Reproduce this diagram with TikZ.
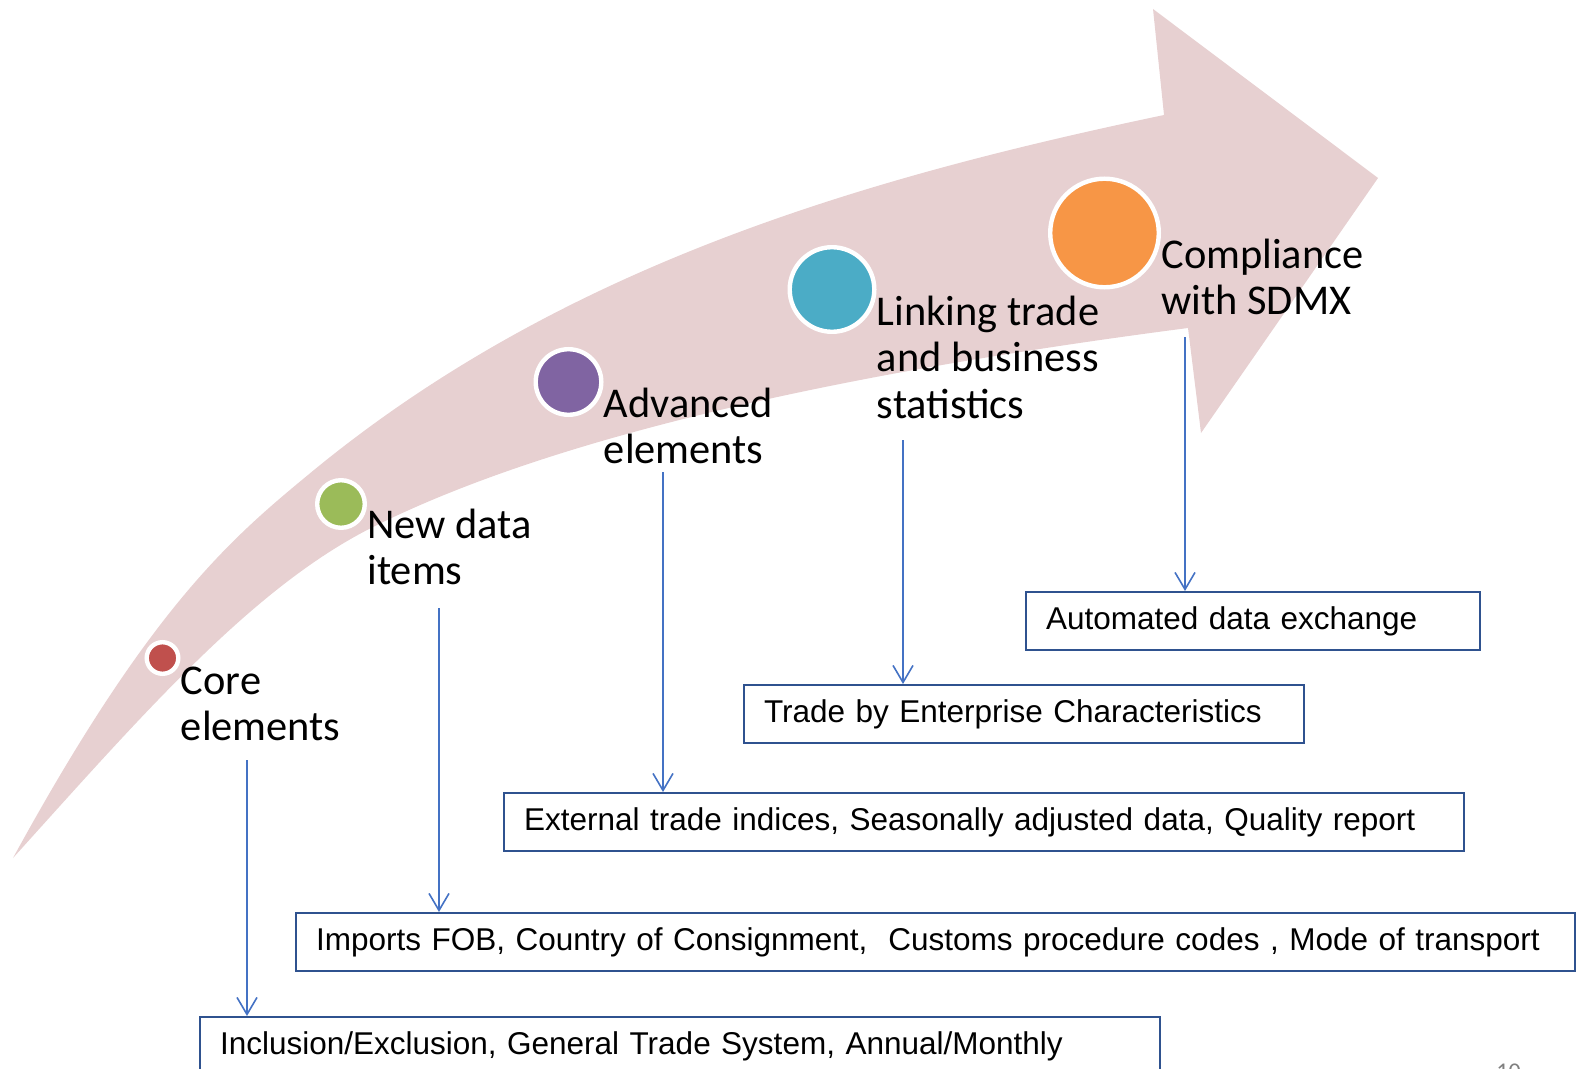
\documentclass[tikz,border=0pt]{standalone}
\usepackage{fontspec}
\setmainfont{Carlito}
\newfontfamily\boxfont{Liberation Sans}
\usetikzlibrary{positioning}
\usetikzlibrary{arrows.meta}
\definecolor{bandpink}{RGB}{231,208,209}
\definecolor{boxblue}{RGB}{47,82,143}
\definecolor{linkblue}{RGB}{68,114,196}
\definecolor{dotred}{RGB}{192,80,77}
\definecolor{dotgreen}{RGB}{155,187,89}
\definecolor{dotviolet}{RGB}{128,100,162}
\definecolor{dotcyan}{RGB}{75,172,198}
\definecolor{dotorange}{RGB}{247,150,70}
\tikzset{
    stagedot/.style = {circle, draw=white, line width=2.2pt, inner sep=0pt, minimum size=#1},
    stagetext/.style = {inner sep=0pt, align=left, anchor=base west, font=\fontsize{21.2}{23.25}\selectfont}, % base = last line
    itembox/.style = {rectangle, draw=boxblue, line width=1pt, anchor=north west, align=left,
                      inner xsep=10pt, minimum height=29pt, font=\boxfont\fontsize{15.75}{18}\selectfont},
    link/.style = {-{Straight Barb[length=8.5pt,width=10pt]}, line width=0.8pt, linkblue},
}
\begin{document}
\begin{tikzpicture}[x=0.5pt,y=-0.5pt]
\useasboundingbox (0,0) rectangle (1577,1069);
%
% the curved arrow
\fill[bandpink] (13,858) .. controls (153,602) and (234,536) .. (314,470)
  .. controls (564,265) and (864,178) .. (1164,115)
  -- (1153,9) -- (1378,178) -- (1201,433) -- (1188,328)
  .. controls (838,373.5) and (553,437) .. (373,527)
  .. controls (253,587) and (143,714) .. (13,858) -- cycle;
%
% stages
\node[stagedot=15.8pt, fill=dotred] at (162.5,658) (core) {};
\node[stagedot=23.8pt, fill=dotgreen] at (341,504) (newdata) {};
\node[stagedot=32.8pt, fill=dotviolet] at (568.5,382) (advanced) {};
\node[stagedot=42.3pt, fill=dotcyan] at (832,289.5) (linking) {};
\node[stagedot=54.3pt, fill=dotorange] at (1104.5,233) (sdmx) {};
%
\node[stagetext] at ([yshift=-41.25pt]core.east) (corelbl) {Core\\elements};
\node[stagetext] at ([yshift=-40.25pt]newdata.east) (newdatalbl) {New data\\items};
\node[stagetext] at ([yshift=-40.75pt]advanced.east) (advancedlbl) {Advanced\\elements};
\node[stagetext] at ([yshift=-64.25pt]linking.east) (linkinglbl) {Linking trade\\and business\\statistics};
\node[stagetext] at ([yshift=-40.75pt]sdmx.east) (sdmxlbl) {Compliance\\with SDMX};
%
% boxes
\node[itembox, text width=207pt] at (1025,591) (sdmxbox) {Automated data exchange};
\node[itembox, text width=260pt] at (743,684) (linkingbox) {Trade by Enterprise Characteristics};
\node[itembox, text width=460pt] at (503,792) (advancedbox) {External trade indices, Seasonally adjusted data, Quality report};
\node[itembox, text width=619.5pt] at (295,912) (newdatabox) {Imports FOB, Country of Consignment,~ Customs procedure codes , Mode of transport};
\node[itembox, text width=460pt] at (199,1016) (corebox) {Inclusion/Exclusion, General Trade System, Annual/Monthly};
%
% connectors
\coordinate (corefoot) at (247,760);
\coordinate (newdatafoot) at (439,608);
\coordinate (advancedfoot) at (663,472);
\coordinate (linkingfoot) at (903,440);
\coordinate (sdmxfoot) at (1185,337);
\draw[link] (corefoot) -- (corefoot |- corebox.north);
\draw[link] (newdatafoot) -- (newdatafoot |- newdatabox.north);
\draw[link] (advancedfoot) -- (advancedfoot |- advancedbox.north);
\draw[link] (linkingfoot) -- (linkingfoot |- linkingbox.north);
\draw[link] (sdmxfoot) -- (sdmxfoot |- sdmxbox.north);
%
\node[anchor=north west, inner sep=0pt, text=gray, font=\fontsize{12}{14}\selectfont] at (1496,1064) (pagenum) {10};
\end{tikzpicture}
\end{document}
